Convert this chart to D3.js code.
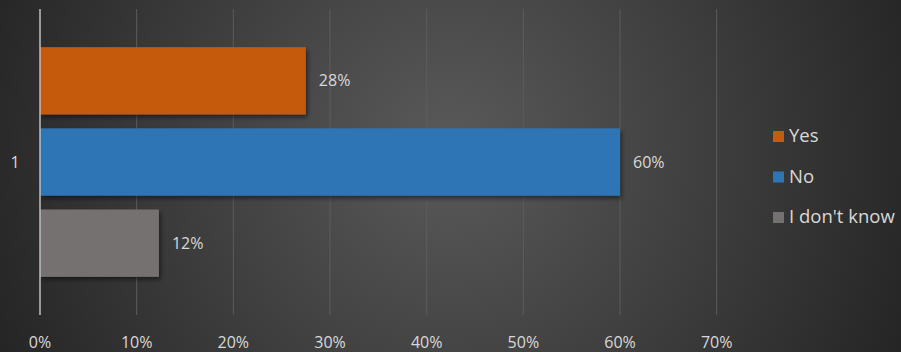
<!DOCTYPE html>
<html>
<head>
<meta charset="utf-8">
<script src="https://cdn.jsdelivr.net/npm/d3@7.9.0/dist/d3.min.js"></script>
<style>
  body { margin: 0; background: #333; }
  svg { display: block; font-family: 'Open Sans', 'DejaVu Sans', sans-serif; }
</style>
</head>
<body>
<svg id="chart" width="901" height="352"></svg>
<script>
// data
const categories = ['1'];
const seriesNames = ['Yes', 'No', "I don't know"];
const seriesValues = [0.275, 0.60, 0.123];
const seriesColors = ['#c55a11', '#2e75b6', '#767171'];
const xTicks = [0, 0.1, 0.2, 0.3, 0.4, 0.5, 0.6, 0.7];

const svg = d3.select('#chart');
const W = 901, H = 352;

// background radial gradient
const defs = svg.append('defs');
const grad = defs.append('radialGradient')
  .attr('id', 'bg')
  .attr('gradientUnits', 'userSpaceOnUse')
  .attr('cx', 450).attr('cy', 150).attr('r', 520);
grad.append('stop').attr('offset', '0%').attr('stop-color', '#5a5a5a');
grad.append('stop').attr('offset', '100%').attr('stop-color', '#222');

const shadow = defs.append('filter').attr('id', 'shadow')
  .attr('x', '-5%').attr('y', '-10%').attr('width', '115%').attr('height', '130%');
shadow.append('feDropShadow')
  .attr('dx', 2).attr('dy', 3).attr('stdDeviation', 2)
  .attr('flood-color', '#000').attr('flood-opacity', 0.45);

svg.append('rect').attr('width', W).attr('height', H).attr('fill', 'url(#bg)');

const x = d3.scaleLinear().domain([0, 0.7]).range([40, 716.7]);
const y = d3.scaleBand().domain(categories).range([9, 315]);
const ySeries = d3.scaleBand().domain(seriesNames)
  .range([0, y.bandwidth()]).paddingInner(0.17).paddingOuter(0.47);

// gridlines
svg.append('g')
  .selectAll('line')
  .data(xTicks.slice(1))
  .join('line')
  .attr('x1', d => x(d)).attr('x2', d => x(d))
  .attr('y1', 9).attr('y2', 315)
  .attr('stroke', '#5c5c5c').attr('stroke-width', 1);

// bars
const barG = svg.append('g');
seriesNames.forEach((name, i) => {
  barG.append('rect')
    .attr('x', x(0))
    .attr('y', y(categories[0]) + ySeries(name))
    .attr('width', x(seriesValues[i]) - x(0))
    .attr('height', ySeries.bandwidth())
    .attr('fill', seriesColors[i])
    .attr('filter', 'url(#shadow)');

  svg.append('text')
    .attr('x', x(seriesValues[i]) + 13)
    .attr('y', y(categories[0]) + ySeries(name) + ySeries.bandwidth() / 2)
    .attr('dy', '0.35em')
    .attr('fill', '#d9d9d9')
    .attr('font-size', 16)
    .text(d3.format('.0%')(seriesValues[i]));
});

// vertical axis line
svg.append('line')
  .attr('x1', x(0)).attr('x2', x(0))
  .attr('y1', 9).attr('y2', 315)
  .attr('stroke', '#bfbfbf').attr('stroke-width', 1.5);

// category label
svg.append('text')
  .attr('x', 15)
  .attr('y', y(categories[0]) + y.bandwidth() / 2)
  .attr('dy', '0.35em')
  .attr('text-anchor', 'middle')
  .attr('fill', '#d9d9d9')
  .attr('font-size', 16)
  .text(categories[0]);

// x tick labels
svg.append('g')
  .selectAll('text')
  .data(xTicks)
  .join('text')
  .attr('x', d => x(d))
  .attr('y', 342)
  .attr('dy', '0.35em')
  .attr('text-anchor', 'middle')
  .attr('fill', '#d9d9d9')
  .attr('font-size', 16)
  .text(d => d3.format('.0%')(d));

// legend
const legend = svg.append('g').attr('transform', 'translate(773,136)');
seriesNames.forEach((name, i) => {
  const g = legend.append('g').attr('transform', `translate(0,${i * 40.5})`);
  g.append('rect').attr('x', 0).attr('y', -5).attr('width', 11).attr('height', 11)
    .attr('fill', seriesColors[i]);
  g.append('text').attr('x', 16).attr('dy', '0.35em')
    .attr('fill', '#d9d9d9').attr('font-size', 18.5)
    .text(name);
});
</script>
</body>
</html>
